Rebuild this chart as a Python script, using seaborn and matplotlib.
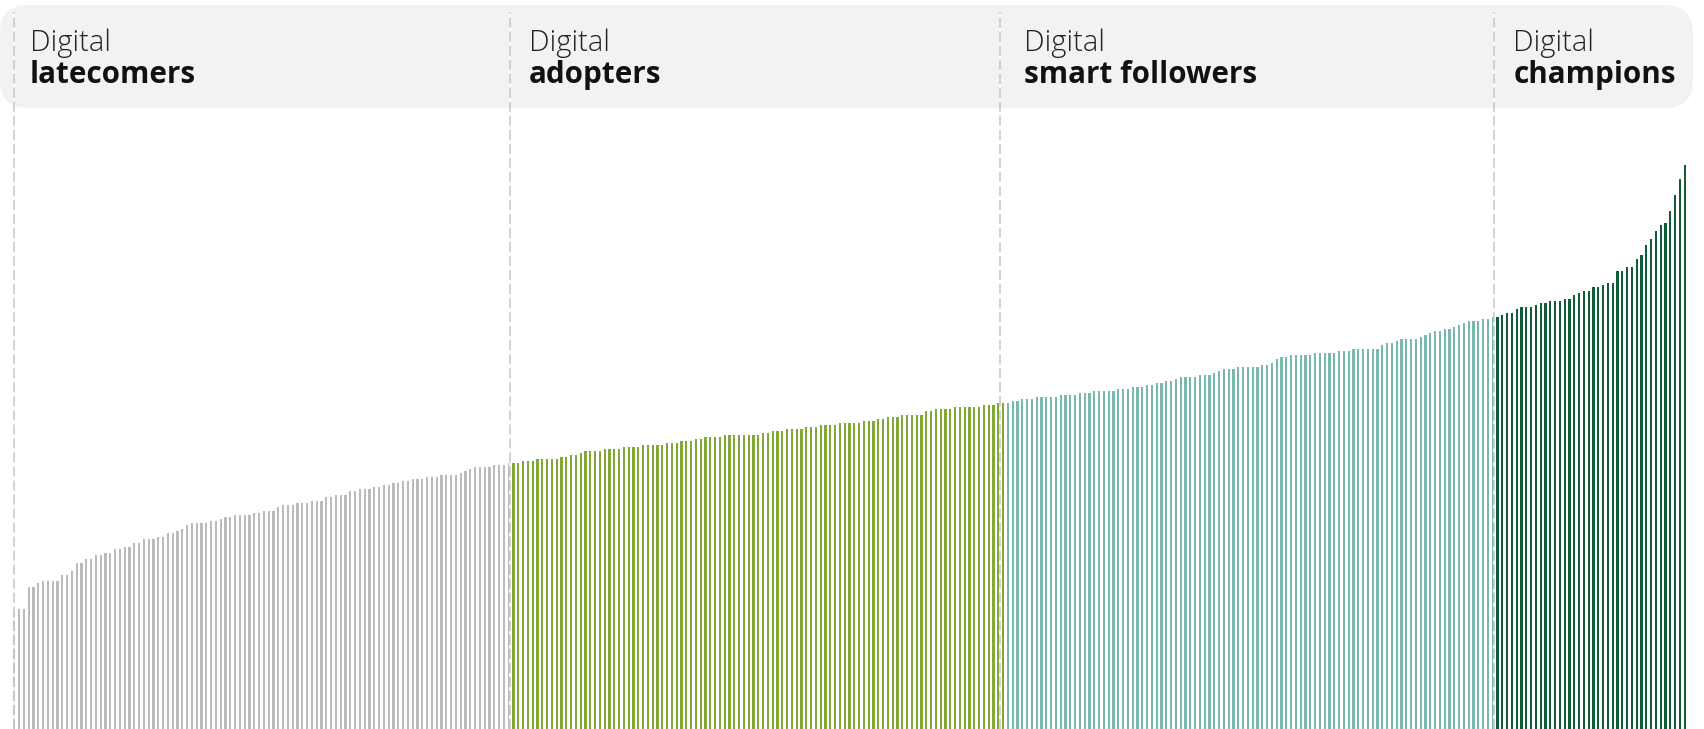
import matplotlib
matplotlib.use("Agg")
import matplotlib.pyplot as plt
from matplotlib.patches import FancyBboxPatch
import pandas as pd
import seaborn as sns

# bar heights, sorted within each segment
latecomers = [
    118, 120, 120, 142, 142, 146, 148, 148, 148, 148,
    154, 154, 158, 166, 166, 170, 170, 174, 174, 176,
    176, 180, 180, 182, 182, 186, 186, 190, 190, 190,
    192, 192, 196, 196, 198, 200, 204, 206, 206, 206,
    206, 208, 208, 210, 212, 212, 214, 214, 214, 214,
    216, 216, 218, 218, 218, 222, 224, 224, 224, 226,
    226, 226, 228, 228, 228, 232, 232, 234, 234, 234,
    238, 238, 240, 240, 240, 242, 242, 244, 244, 246,
    246, 248, 248, 250, 250, 250, 252, 252, 252, 254,
    254, 254, 254, 256, 258, 260, 262, 262, 262, 262,
    264, 264, 264, 266,
]
adopters = [
    266, 266, 268, 268, 268, 270, 270, 270, 270, 270,
    272, 272, 274, 274, 276, 278, 278, 278, 278, 280,
    280, 280, 280, 282, 282, 282, 282, 284, 284, 284,
    284, 284, 286, 286, 286, 288, 288, 288, 290, 290,
    292, 292, 292, 292, 294, 294, 294, 294, 294, 294,
    294, 294, 296, 296, 298, 298,
    298, 300, 300, 300, 300, 302, 302, 302, 304, 304,
    304, 304, 306, 306, 306, 306, 306, 308, 308, 308,
    310, 310, 312, 312, 312, 314, 314, 314, 314, 314,
    318, 318, 320, 320, 320, 320, 322,
    322, 322, 322, 322, 322, 324, 324, 324, 326, 326,
]
smart_followers = [
    326, 328, 328, 330, 330, 330, 332, 332, 332, 332,
    332, 334, 334, 334, 334, 336, 336, 336, 338, 338,
    338, 338, 338, 340, 340, 340, 342, 342, 342, 344,
    344, 346, 346, 348, 348, 350, 352, 352, 352, 352,
    354, 354, 354, 356, 358, 360, 360, 360, 362, 362,
    362,
    362, 362, 364, 364, 366, 370, 372, 372, 374, 374,
    374, 374, 374, 376, 376, 376, 376, 376, 378, 378,
    378, 380, 380, 380, 380, 380, 380, 384, 386, 386,
    388, 390, 390, 390, 390, 392, 394, 396, 398, 398,
    400, 400, 402,
    404, 406, 408, 408, 408, 410, 410, 412,
]
champions = [
    412, 414, 416, 416, 420, 422, 422, 422, 424, 426,
    426, 428, 428, 428, 430, 430, 434, 436, 438, 438,
    442, 442, 444, 446, 446, 458, 458, 462, 462, 470,
    474, 484, 490, 498, 504, 506, 518, 534, 550, 564,
]

groups = ["latecomers", "adopters", "smart followers", "champions"]
group_values = [latecomers, adopters, smart_followers, champions]
colors = ["#bbbbbb", "#86bc25", "#6fc2b4", "#046a38"]
# where each dashed divider sits relative to the group's first bar (in bar slots)
divider_shift = [-0.1, -0.7, -1.6, -0.7]

rows = []
for g, vals in zip(groups, group_values):
    for v in vals:
        rows.append({"group": g, "value": v})
df = pd.DataFrame(rows)
df["idx"] = range(len(df))

sns.set_theme(style="white")
plt.rcParams["font.family"] = ["Open Sans", "DejaVu Sans"]
plt.rcParams["lines.scale_dashes"] = False

W, H = 1704, 729
fig = plt.figure(figsize=(W / 100, H / 100), dpi=100)

# background layer in pixel units: header band + labels
bg = fig.add_axes([0, 0, 1, 1])
bg.set_xlim(0, W)
bg.set_ylim(H, 0)
bg.axis("off")
band = FancyBboxPatch((0, 5), 1693, 103,
                      boxstyle="round,pad=0,rounding_size=28",
                      fc="#f2f2f2", ec="none")
bg.add_patch(band)

# bar layer: one slot = 4.8 px, first bar centre at 14.3 px
step, x0 = 4.8, 14.3
ax = fig.add_axes([0, 0, 1, 1], zorder=2)
ax.patch.set_alpha(0)
sns.barplot(data=df, x="idx", y="value", hue="group", hue_order=groups,
            palette=dict(zip(groups, colors)), dodge=False, width=0.42,
            linewidth=0, errorbar=None, legend=False, ax=ax)
ax.set_xlim(-x0 / step, (W - x0) / step)
ax.set_ylim(0, H)
ax.axis("off")

start = 0
for g, vals, shift in zip(groups, group_values, divider_shift):
    ax.vlines(start + shift, 0, H - 12, colors="#c8c8c8", linewidth=1.15,
              linestyles=(0, (7.2, 2.9)), gapcolor="white", zorder=5)
    px = x0 + step * (start - 0.7) + 19
    bg.text(px, 51, "Digital", fontsize=21, fontweight="light",
            color="#222222", va="baseline", ha="left")
    bg.text(px, 83, g, fontsize=21.3, fontweight="bold",
            color="#111111", va="baseline", ha="left")
    start += len(vals)

fig.savefig("out.png", dpi=100)
